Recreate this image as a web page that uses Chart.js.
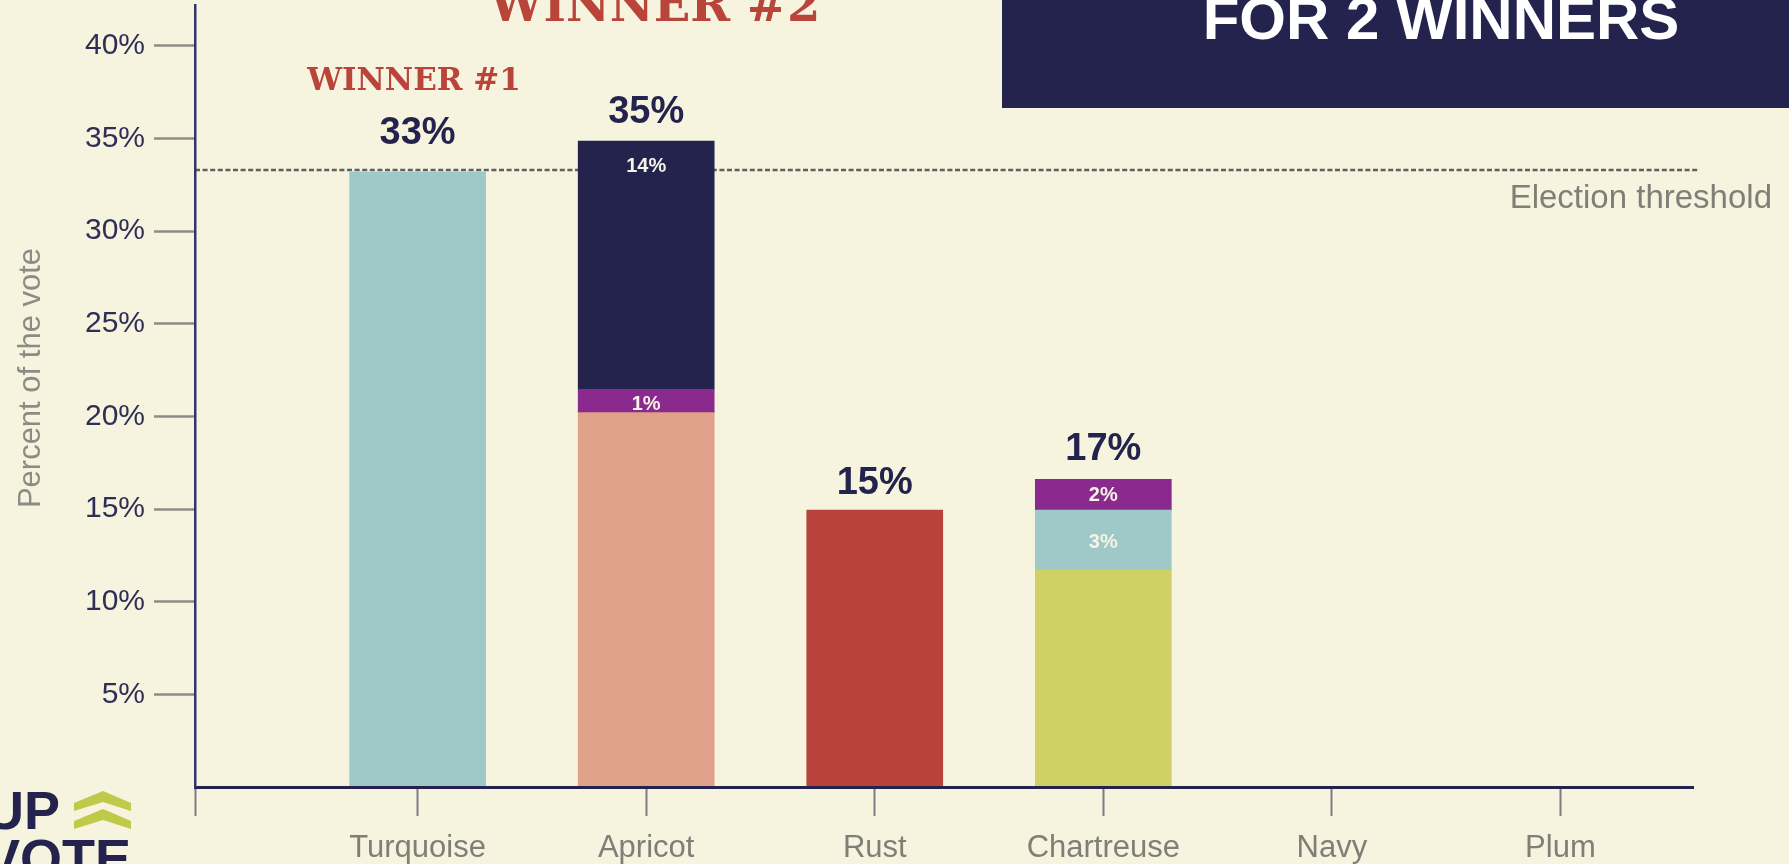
<!DOCTYPE html>
<html>
<head>
<meta charset="utf-8">
<title>Votes for 2 winners</title>
<script src="https://cdn.jsdelivr.net/npm/chart.js@4"></script>
<style>
  html, body { margin: 0; padding: 0; background: #f6f3df; overflow: hidden; }
  #wrap { position: relative; width: 1789px; height: 864px; }
</style>
</head>
<body>
<div id="wrap"><canvas id="chart" width="1789" height="864"></canvas></div>
<script>
// values, in percent of the vote
const categories = ['Turquoise', 'Apricot', 'Rust', 'Chartreuse', 'Navy', 'Plum'];
const apricotVotes = [null, 20.2, null, null, null, null];
const rustVotes = [null, null, 14.95, null, null, null];
const chartreuseVotes = [null, null, null, 11.7, null, null];
const turquoiseVotes = [33.2, null, null, 3.25, null, null];
const plumVotes = [null, 1.25, null, 1.65, null, null];
const navyVotes = [null, 13.4, null, null, null, null];

const totalLabels = ['33%', '35%', '15%', '17%', '', ''];
const transferLabels = [
  {cat: 1, after: [apricotVotes, plumVotes, navyVotes], text: '14%'},
  {cat: 1, after: [apricotVotes, plumVotes], text: '1%'},
  {cat: 3, after: [chartreuseVotes, turquoiseVotes, plumVotes], text: '2%'},
  {cat: 3, after: [chartreuseVotes, turquoiseVotes], text: '3%'}
];
const threshold = 33.3;
const yTicks = [5, 10, 15, 20, 25, 30, 35, 40];

const NAVY = '#23234d';
const GREY = '#7f7f78';
const RED = '#b9443a';
const SANS = '"Liberation Sans", Arial, sans-serif';
const SLAB = '"DejaVu Serif", serif';

// the x axis runs past the first and last category
const xMin = -0.974, xMax = 5.58;

function points(values) {
  return values.map((v, i) => ({x: i, y: v}));
}

function barSet(label, values, color) {
  return {label, data: points(values), backgroundColor: color, barThickness: 136, stack: 'votes', order: 1};
}

function stackTop(cat, series) {
  return series.reduce((sum, s) => sum + (s[cat] || 0), 0);
}

function put(ctx, text, x, y, font, color, align) {
  ctx.font = font;
  ctx.fillStyle = color;
  ctx.textAlign = align || 'center';
  ctx.textBaseline = 'alphabetic';
  ctx.fillText(text, x, y);
}

// text round the chart, the box top right and the logo
const extras = {
  id: 'extras',
  beforeDraw(chart) {
    const ctx = chart.ctx;
    ctx.save();
    ctx.fillStyle = '#f6f3df';
    ctx.fillRect(0, 0, chart.width, chart.height);
    ctx.restore();
  },
  afterDraw(chart) {
    const ctx = chart.ctx;
    const x = chart.scales.x, y = chart.scales.y;
    const series = [apricotVotes, rustVotes, chartreuseVotes, turquoiseVotes, plumVotes, navyVotes];
    const totalGaps = [28, 18, 16, 19];
    const insets = {'14%': 31, '1%': 20, '2%': 22, '3%': 38};
    ctx.save();

    totalLabels.forEach((text, i) => {
      if (!text) return;
      put(ctx, text, x.getPixelForValue(i), y.getPixelForValue(stackTop(i, series)) - totalGaps[i], 'bold 38px ' + SANS, NAVY);
    });

    transferLabels.forEach(l => {
      const top = y.getPixelForValue(stackTop(l.cat, l.after));
      put(ctx, l.text, x.getPixelForValue(l.cat), top + insets[l.text], 'bold 20px ' + SANS, '#f6f3e8');
    });

    put(ctx, 'WINNER #1', 414, 90, 'bold 31px ' + SLAB, RED);
    put(ctx, 'WINNER #2', 655, 21, 'bold 48px ' + SLAB, RED);
    put(ctx, 'Election threshold', 1772, 208, '33px ' + SANS, GREY, 'right');

    ctx.fillStyle = NAVY;
    ctx.fillRect(1002, 0, 787, 108);
    put(ctx, 'FOR 2 WINNERS', 1441, 39, 'bold 60px ' + SANS, '#ffffff');

    ctx.save();
    ctx.translate(40, 378);
    ctx.rotate(-Math.PI / 2);
    put(ctx, 'Percent of the vote', 0, 0, '31px ' + SANS, '#8c8c84');
    ctx.restore();

    // logo, cut off by the picture edge
    put(ctx, 'UP', 60, 829, 'bold 54px ' + SANS, NAVY, 'right');
    put(ctx, 'VOTE', 131, 877, 'bold 54px ' + SANS, NAVY, 'right');
    ctx.fillStyle = '#bfc94a';
    [0, 18].forEach(dy => {
      ctx.beginPath();
      ctx.moveTo(74, 803 + dy);
      ctx.lineTo(103, 791 + dy);
      ctx.lineTo(131, 803 + dy);
      ctx.lineTo(131, 811 + dy);
      ctx.lineTo(103, 802 + dy);
      ctx.lineTo(74, 811 + dy);
      ctx.closePath();
      ctx.fill();
    });
    ctx.restore();
  }
};

new Chart(document.getElementById('chart'), {
  type: 'bar',
  data: {
    datasets: [
      barSet('Apricot', apricotVotes, '#dfa189'),
      barSet('Rust', rustVotes, '#b9433a'),
      barSet('Chartreuse', chartreuseVotes, '#cfd164'),
      barSet('Turquoise', turquoiseVotes, '#9fc9c8'),
      barSet('Plum', plumVotes, '#8a2a8f'),
      barSet('Navy', navyVotes, NAVY),
      {
        type: 'line',
        label: 'Election threshold',
        data: [{x: xMin, y: threshold}, {x: xMax + 0.02, y: threshold}],
        borderColor: '#5f5f5f',
        borderWidth: 2.5,
        borderDash: [5, 2.6],
        pointRadius: 0,
        stack: 'threshold',
        order: 2,
        clip: false
      }
    ]
  },
  options: {
    responsive: false,
    animation: false,
    layout: {padding: {top: 5, right: 96}},
    plugins: {legend: {display: false}, tooltip: {enabled: false}},
    scales: {
      x: {
        type: 'linear',
        stacked: true,
        offset: false,
        min: xMin,
        max: xMax,
        afterFit(scale) { scale.height = 77; scale.paddingLeft = 0; scale.paddingRight = 0; },
        afterBuildTicks(scale) {
          scale.ticks = [xMin].concat(categories.map((c, i) => i)).map(value => ({value}));
        },
        border: {color: NAVY, width: 3, z: 1},
        grid: {offset: false, drawOnChartArea: false, tickLength: 29, tickColor: '#7c7c84', tickWidth: 2},
        ticks: {
          autoSkip: false,
          maxRotation: 0,
          padding: 14,
          color: GREY,
          font: {family: SANS, size: 31},
          callback: value => categories[value] || ''
        }
      },
      y: {
        stacked: true,
        min: 0,
        max: 42.2,
        afterFit(scale) { scale.width = 195; scale.paddingTop = 0; scale.paddingBottom = 0; },
        afterBuildTicks(scale) {
          scale.ticks = yTicks.map(value => ({value}));
        },
        border: {color: '#34346a', width: 2.5, z: 1},
        grid: {drawOnChartArea: false, tickLength: 41, tickColor: '#8e8b84', tickWidth: 2.5},
        ticks: {
          padding: 9,
          color: '#2f2f55',
          font: {family: SANS, size: 30},
          callback: value => value + '%'
        }
      }
    }
  },
  plugins: [extras]
});
</script>
</body>
</html>
